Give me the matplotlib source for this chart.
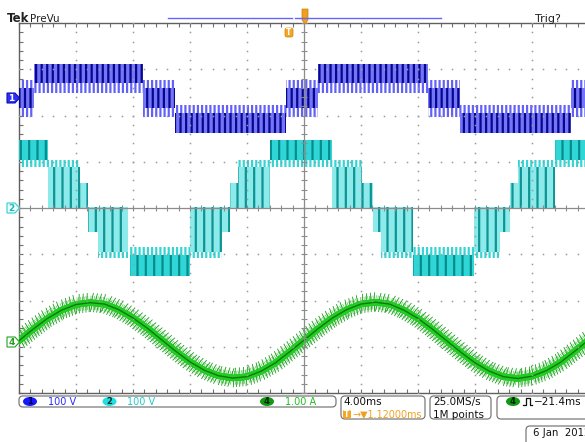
import numpy as np
import matplotlib
matplotlib.use("Agg")
import matplotlib.pyplot as plt
from matplotlib import patheffects as pe
from matplotlib.patches import FancyBboxPatch, Ellipse, Polygon

plt.rcParams['hatch.linewidth'] = 1.6
plt.rcParams['font.family'] = 'DejaVu Sans'

# ---- channel 1 (blue, 100 V/div): step times in ms and band levels in V
ch1_edges = [-20.0, -18.95, -11.3, -9.05, -1.26, 0.98, 8.7, 10.95, 18.74, 20.0]
ch1_state = ['mid', 'pos', 'mid', 'neg', 'mid', 'pos', 'mid', 'neg', 'mid']
ch1_body = {'pos': (33, 74), 'mid': (-22, 22), 'neg': (-76, -33)}
ch1_teeth = {'pos': [(11, 33)], 'mid': [(22, 39), (-41, -22)], 'neg': [(-33, -15)]}

# ---- channel 2 (cyan, 100 V/div): staircase segments
ch2_t0 = [-20.0, -17.96, -16.42, -15.16, -14.46, -12.21, -8.0, -8.0, -5.19, -4.63, -2.39,
          1.96, 3.58, 4.84, 5.40, 7.65, 11.93, 11.93, 14.46, 15.02, 17.61]
ch2_t1 = [-17.96, -15.72, -15.16, -14.46, -12.35, -8.0, -5.75, -5.19, -4.49, -2.39, 1.96,
          4.07, 4.84, 5.54, 7.65, 11.93, 13.75, 14.46, 15.30, 17.61, 20.0]
ch2_kind = ['top', 'up2', 'up1', 'dn1', 'dn2', 'bot', 'dn2', 'dn1', 'up1', 'up2', 'top',
            'up2', 'up1', 'dn1', 'dn2', 'bot', 'dn2', 'dn1', 'up1', 'up2', 'top']
ch2_body = {'top': (104, 148), 'up2': (0, 88), 'up1': (0, 54),
            'dn1': (-52, 2), 'dn2': (-95, 2), 'bot': (-148, -102)}
ch2_teeth = {'top': (89, 104), 'up2': (88, 104), 'up1': None,
             'dn1': None, 'dn2': (-109, -95), 'bot': (-102, -85)}

# ---- channel 4 (green, 1 A/div): current
ch4_t = [-20, -19, -18, -17, -16, -15, -14, -13, -12, -11, -10, -9, -8, -7, -6, -5, -4,
         -3, -2, -1, 0, 1, 2, 3, 4, 5, 6, 7, 8, 9, 10, 11, 12, 13, 14, 15, 16, 17, 18, 19, 20]
ch4_amp = [0.03, 0.28, 0.51, 0.69, 0.81, 0.85, 0.82, 0.70, 0.52, 0.30, 0.05, -0.20, -0.43,
           -0.61, -0.73, -0.78, -0.75, -0.63, -0.45, -0.21, 0.04, 0.29, 0.52, 0.70, 0.82,
           0.86, 0.82, 0.69, 0.51, 0.28, 0.03, -0.22, -0.45, -0.63, -0.75, -0.79, -0.74,
           -0.62, -0.44, -0.20, 0.05]

# channel offsets in divisions
off1 = 2.378
off2 = 0.0
off4 = -2.897

W, H = 585, 442
fig = plt.figure(figsize=(W / 100, H / 100), dpi=100)
ax = fig.add_axes([19 / W, (H - 393) / H, 570 / W, 370 / H])
ax.set_xlim(-20, 20)
ax.set_ylim(-4, 4)

# graticule
grid_c = '#9a9a9a'
minor_x = np.arange(-20, 20.01, 0.8)
minor_y = np.arange(-4, 4.01, 0.2)
for gx in range(-16, 17, 4):
    if gx != 0:
        ax.plot(np.full_like(minor_y, gx), minor_y, ls='none', marker='s', ms=1.1,
                mew=0, color=grid_c, zorder=6)
for gy in range(-3, 4):
    if gy != 0:
        ax.plot(minor_x, np.full_like(minor_x, gy), ls='none', marker='s', ms=1.1,
                mew=0, color=grid_c, zorder=6)
ax.axhline(0, color='#8c8c8c', lw=0.9, zorder=6)
ax.axvline(0, color='#8c8c8c', lw=0.9, zorder=6)
ax.plot(minor_x, np.zeros_like(minor_x), ls='none', marker='|', ms=5, mew=0.8,
        color='#8c8c8c', zorder=6)
ax.plot(np.zeros_like(minor_y), minor_y, ls='none', marker='_', ms=5, mew=0.8,
        color='#8c8c8c', zorder=6)
for s in ['top', 'bottom', 'left']:
    ax.spines[s].set_color('#606060')
    ax.spines[s].set_linewidth(1.0)
ax.spines['right'].set_visible(False)
ax.set_xticks(minor_x)
ax.set_yticks(minor_y)
ax.tick_params(direction='in', length=3, width=0.8, color='#707070', top=True,
               right=False, labelbottom=False, labelleft=False)


def band(t0, t1, lo, hi, face, stripe, hatch, z):
    ax.fill_between([t0, t1], lo, hi, facecolor=face, edgecolor=stripe,
                    hatch=hatch, linewidth=0, zorder=z)


# channel 1
for i, st in enumerate(ch1_state):
    t0, t1 = ch1_edges[i], ch1_edges[i + 1]
    for lo, hi in ch1_teeth[st]:
        band(t0, t1, off1 + lo / 100, off1 + hi / 100, 'none', '#6262f8', '||||', 2)
    lo, hi = ch1_body[st]
    band(t0, t1, off1 + lo / 100, off1 + hi / 100, '#7474f6', '#06068e', '|||', 3)

# channel 2
for t0, t1, k in zip(ch2_t0, ch2_t1, ch2_kind):
    if ch2_teeth[k] is not None:
        lo, hi = ch2_teeth[k]
        band(t0, t1, off2 + lo / 100, off2 + hi / 100, 'none', '#38d4d4', '||||', 2)
    lo, hi = ch2_body[k]
    if k in ('top', 'bot'):
        band(t0, t1, off2 + lo / 100, off2 + hi / 100, '#30d6d6', '#048c8c', '||', 3)
    else:
        band(t0, t1, off2 + lo / 100, off2 + hi / 100, '#8ceaea', '#0e9494', '||', 3)

# channel 4
y4 = off4 + np.array(ch4_amp)
ax.plot(ch4_t, y4, color='#22cc22', lw=4.5, zorder=4,
        path_effects=[pe.withTickedStroke(angle=90, spacing=1.3, length=3.6, foreground='#6ad46a', linewidth=0.6),
                      pe.withTickedStroke(angle=-90, spacing=1.3, length=3.6, foreground='#6ad46a', linewidth=0.6),
                      pe.withTickedStroke(angle=80, spacing=2.9, length=2.4, foreground='#1c9c1c', linewidth=0.6),
                      pe.withTickedStroke(angle=-100, spacing=2.3, length=2.8, foreground='#1c9c1c', linewidth=0.6),
                      pe.Normal()])
ax.plot(ch4_t, y4, color='#0b7a0b', lw=1.0, zorder=4)

# ---- screen decorations in pixel coordinates
ov = fig.add_axes([0, 0, 1, 1], zorder=10)
ov.set_xlim(0, W)
ov.set_ylim(H, 0)
ov.axis('off')

ov.text(7, 22, 'Tek', fontsize=8.5, fontweight='bold', color='#202020')
ov.text(30, 22, 'PreVu', fontsize=7.5, color='#202020')
ov.text(535, 22, 'Trig?', fontsize=8, color='#202020')
ov.plot([168, 292], [17.5, 17.5], color='#6464ff', lw=1)
ov.plot([295, 441], [17.5, 17.5], color='#6464ff', lw=1)
ov.add_patch(Polygon([(302, 9), (308, 9), (308, 20), (305, 24), (302, 20)],
                     closed=True, facecolor='#f0a020', edgecolor='#d08000', lw=0.5))
ov.add_patch(FancyBboxPatch((285, 28), 8, 9, boxstyle='round,pad=0,rounding_size=2',
                            facecolor='#f5a623', edgecolor='#d08000', lw=0.5))
ov.text(289, 32.8, 'T', fontsize=5.5, color='white', ha='center', va='center', fontweight='bold')


def marker(y, label, face, edge, tc):
    ov.add_patch(Polygon([(7, y - 5), (15, y - 5), (19.5, y), (15, y + 5), (7, y + 5)],
                         closed=True, facecolor=face, edgecolor=edge, lw=0.8))
    ov.text(11.5, y + 0.3, label, ha='center', va='center', fontsize=6.5, color=tc,
            fontweight='bold')


marker(98, '1', '#2e2eff', '#1010b0', 'white')
marker(208, '2', '#eaffff', '#34cccc', '#20b4b4')
marker(342, '4', 'white', '#24a024', '#24a024')


def box(x, y, w, h):
    ov.add_patch(FancyBboxPatch((x, y), w, h, boxstyle='round,pad=0,rounding_size=4',
                                facecolor='white', edgecolor='#7a7a7a', lw=0.9))


def chip(x, y, label, face, tc):
    ov.add_patch(Ellipse((x, y), 14, 9, facecolor=face, edgecolor='none'))
    ov.text(x, y + 0.3, label, ha='center', va='center', fontsize=6, color=tc, fontweight='bold')


box(19, 396, 317, 11)
box(341, 396, 84, 23)
box(430, 396, 61, 23)
box(497, 396, 95, 23)
box(526, 426, 70, 22)

chip(30, 401.5, '1', '#1818ff', '#000050')
ov.text(48, 401.8, '100 V', fontsize=7, color='#2a2aff', va='center')
chip(109.5, 401.5, '2', '#22dede', '#003030')
ov.text(127, 401.8, '100 V', fontsize=7, color='#22cccc', va='center')
chip(267, 401.5, '4', '#119a11', '#002000')
ov.text(285, 401.8, '1.00 A', fontsize=7, color='#1fbf1f', va='center')

ov.text(343, 401.8, '4.00ms', fontsize=7.5, color='#101010', va='center')
ov.add_patch(FancyBboxPatch((343, 410), 8, 8.5, boxstyle='round,pad=0,rounding_size=1.5',
                            facecolor='#f5a623', edgecolor='none'))
ov.text(347, 414.5, 'T', fontsize=5.5, color='white', ha='center', va='center', fontweight='bold')
ov.text(352, 414.6, '\u2192\u25bc1.12000ms', fontsize=6.9, color='#f0a020', va='center')

ov.text(433, 401.8, '25.0MS/s', fontsize=7.5, color='#101010', va='center')
ov.text(433, 414.6, '1M points', fontsize=7.5, color='#101010', va='center')

chip(513, 401.5, '4', '#119a11', '#002000')
ov.plot([523, 525.5, 525.5, 530, 530, 532], [405, 405, 398, 398, 405, 405],
        color='#101010', lw=0.9)
ov.text(534, 401.8, '\u221221.4ms', fontsize=7.5, color='#101010', va='center')

ov.text(533, 432.5, '6 Jan  2012', fontsize=7.3, color='#101010', va='center')

fig.savefig('out.png', dpi=100, facecolor='white')
